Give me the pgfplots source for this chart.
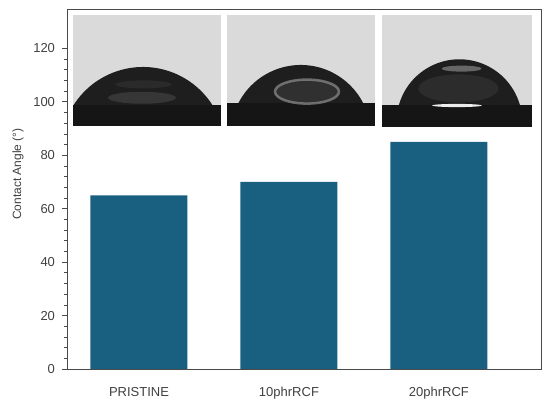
\documentclass[border=0pt]{standalone}
\usepackage{fontspec}
\setmainfont{Liberation Sans}
\usepackage{pgfplots}
\pgfplotsset{compat=1.18}
\definecolor{barc}{HTML}{185F80}
\definecolor{framec}{HTML}{4A4A4A}
\definecolor{txt}{HTML}{404040}
\definecolor{photobg}{HTML}{DADADA}
\definecolor{subst}{HTML}{151515}
\definecolor{drop}{HTML}{1E1E1E}
\begin{document}
\begin{tikzpicture}[x=1pt,y=1pt]
\useasboundingbox (0,0) rectangle (550,406);
\begin{axis}[
  at={(67pt,37pt)}, anchor=south west,
  width=474.7pt, height=359.7pt, scale only axis,
  xmin=-0.48, xmax=2.685, ymin=0, ymax=134.6,
  ybar, bar width=97pt,
  xtick={0,1,2}, xticklabels={PRISTINE,10phrRCF,20phrRCF},
  ytick={0,20,40,60,80,100,120},
  minor y tick num=4,
  ytick pos=left,
  tick align=outside,
  x tick style={draw=none},
  major tick length=5pt, minor tick length=3pt,
  y tick style={color=framec, line width=0.8pt},
  minor y tick style={color=framec, line width=0.6pt},
  axis line style={color=framec, line width=0.8pt},
  tick label style={font=\fontsize{13}{15}\selectfont, color=txt},
  /pgf/number format/assume math mode=true,
  xticklabel style={yshift=-10pt},
  yticklabel style={xshift=-3.5pt},
  clip=false,
]
% photos (decorative)
\fill[photobg] (-0.442,90.9) rectangle (0.545,132.5);
\fill[photobg] (0.589,90.9) rectangle (1.573,132.5);
\fill[photobg] (1.622,90.5) rectangle (2.622,132.5);
% drops
\fill[drop] (-0.44,98.4) arc[start angle=148.3, end angle=31.7, radius=82.3pt] -- cycle;
\fill[drop] (0.662,99.4) arc[start angle=153.1, end angle=26.9, radius=70.1pt] -- cycle;
\fill[drop] (1.733,98.8) arc[start angle=164.1, end angle=15.9, radius=62.9pt] -- cycle;
% substrates
\fill[subst] (-0.442,90.9) rectangle (0.545,98.6);
\fill[subst] (0.589,90.9) rectangle (1.573,99.4);
\fill[subst] (1.622,90.5) rectangle (2.622,98.8);
% highlights drop 1
\fill[gray!55!black, opacity=0.6] (0.02,101.5) ellipse[x radius=34pt, y radius=6pt];
\fill[gray!40!black, opacity=0.6] (0.03,106.5) ellipse[x radius=28pt, y radius=4pt];
% highlights drop 2
\fill[gray!45!black, opacity=0.7] (1.12,103.8) ellipse[x radius=32pt, y radius=12pt];
\draw[gray!75, line width=2.5pt, opacity=0.6] (1.12,103.8) ellipse[x radius=32pt, y radius=12pt];
% highlights drop 3
\fill[gray!40!black, opacity=0.7] (2.13,105) ellipse[x radius=40pt, y radius=14pt];
\fill[gray!80!black] (2.151,112.4) ellipse[x radius=20pt, y radius=3pt];
\fill[gray!15] (2.12,98.6) ellipse[x radius=25pt, y radius=1.6pt];
% bars
\addplot[fill=barc, draw=none] coordinates {(0,65) (1,70) (2,85)};
\end{axis}
\node[rotate=90, font=\fontsize{12}{14}\selectfont, color=txt] at (18,232) {Contact Angle (°)};
\end{tikzpicture}
\end{document}
